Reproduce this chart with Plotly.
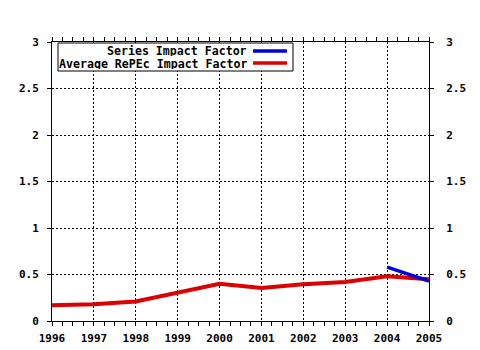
import plotly.graph_objects as go

years = [1996, 1997, 1998, 1999, 2000, 2001, 2002, 2003, 2004, 2005]
avg_if = [0.17, 0.18, 0.21, 0.30, 0.40, 0.355, 0.395, 0.42, 0.48, 0.45]
series_years = [2004, 2005]
series_if = [0.58, 0.43]
legend_labels = ["Series Impact Factor", "Average RePEc Impact Factor"]
colors = ["#0000dd", "#dd0000"]

FONT = "DejaVu Sans Mono"
fig = go.Figure()
fig.add_trace(go.Scatter(x=years, y=avg_if, mode="lines", line=dict(color=colors[1], width=4),
                         showlegend=False))
fig.add_trace(go.Scatter(x=series_years, y=series_if, mode="lines", line=dict(color=colors[0], width=3.5),
                         showlegend=False))
# invisible trace for the right-hand axis
fig.add_trace(go.Scatter(x=[years[0]], y=[0], yaxis="y2", mode="markers",
                         marker=dict(opacity=0), showlegend=False, hoverinfo="skip"))

tickfont = dict(family=FONT, size=11, color="black", weight="bold")
fig.update_layout(
    width=480, height=350,
    margin=dict(l=52, r=51, t=42, b=29),
    paper_bgcolor="white", plot_bgcolor="white",
    xaxis=dict(range=[1996, 2005], dtick=1, tick0=1996, showline=True, linecolor="black", linewidth=1,
               mirror="allticks", ticks="outside", ticklen=4, tickcolor="black",
               minor=dict(dtick=0.25, ticks="outside", ticklen=2, tickcolor="black", showgrid=False),
               showgrid=True, gridcolor="black", griddash="2px,2px", gridwidth=1,
               tickfont=tickfont, ticklabelstandoff=3, zeroline=False, automargin=False),
    yaxis=dict(range=[0, 3], dtick=0.5, showline=True, linecolor="black", linewidth=1, mirror=True,
               ticks="outside", ticklen=4, tickcolor="black",
               showgrid=True, gridcolor="black", griddash="2px,2px", gridwidth=1,
               tickfont=tickfont, ticklabelstandoff=6, zeroline=False, automargin=False),
    yaxis2=dict(range=[0, 3], dtick=0.5, overlaying="y", side="right", showline=False,
                ticks="outside", ticklen=4, tickcolor="black", showgrid=False,
                tickfont=tickfont, ticklabelstandoff=10, zeroline=False, automargin=False),
)

# legend box
def px(x):
    return (x - 52) / 377

def py(y):
    return (321 - y) / 279

fig.add_shape(type="rect", xref="paper", yref="paper", x0=px(58), x1=px(293), y0=py(71), y1=py(43),
              line=dict(color="black", width=1), fillcolor="white", layer="above")
for i, (lab, col) in enumerate(zip(legend_labels, colors)):
    yy = [51, 63][i]
    fig.add_shape(type="line", xref="paper", yref="paper", x0=px(253), x1=px(287), y0=py(yy), y1=py(yy),
                  line=dict(color=col, width=3.5), layer="above")
    fig.add_annotation(xref="paper", yref="paper", x=px(248), y=py(yy), text=lab, showarrow=False,
                       xanchor="right", yanchor="middle", height=11, borderpad=0,
                       font=dict(family=FONT, size=11.6, color="black", weight="bold"))

fig.write_html("out.html")
